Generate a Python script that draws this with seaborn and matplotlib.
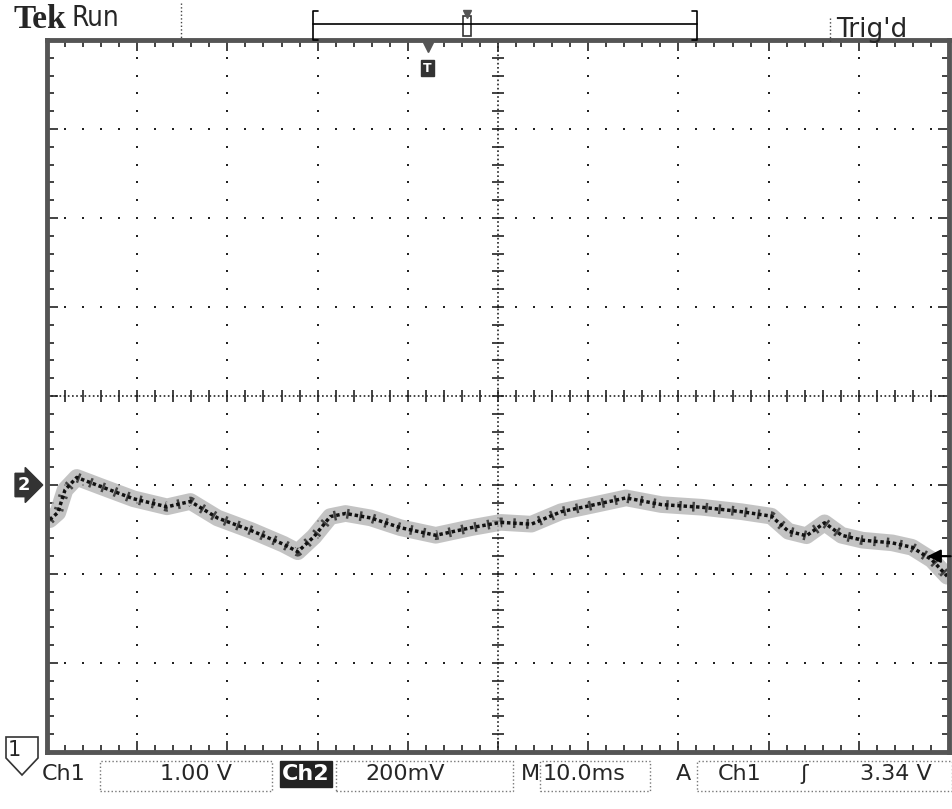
import numpy as np
import pandas as pd
import matplotlib
matplotlib.use("Agg")
import matplotlib.pyplot as plt
from matplotlib.patches import Rectangle, Polygon
import seaborn as sns

# ---- data (Ch2, 200 mV/div, 10 ms/div) ----
time_ms = [0.3, 1.2, 2.0, 3.3, 5.9, 9.6, 13.3, 15.9, 18.9, 22.6, 26.2, 27.8, 29.6,
           31.4, 33.1, 35.9, 39.2, 43.1, 47.0, 50.3, 53.7, 57.0, 60.3, 64.2, 68.1,
           72.6, 77.0, 80.3, 82.2, 84.2, 86.2, 88.1, 90.4, 93.7, 95.9, 98.1, 99.8]
ch2_mv = [-78, -62, -11, 17, -3, -31, -49, -37, -74, -102, -133, -150, -116,
          -71, -64, -74, -96, -113, -96, -84, -88, -60, -46, -29, -44,
          -50, -60, -70, -104, -114, -85, -113, -124, -130, -140, -168, -205]

header_left = ["Tek", "Run"]
header_right = "Trig'd"
footer_labels = ["Ch1", "1.00 V", "Ch2", "200mV", "M", "10.0ms", "A", "Ch1", "\u0283", "3.34 V"]
trigger_level_mv = -160
trigger_pos_ms = 42.2

W, H = 952, 809
sns.set_theme(style="white")
plt.rcParams["font.family"] = ["DejaVu Sans"]
fig = plt.figure(figsize=(W / 100, H / 100), dpi=100)
fig.patch.set_facecolor("white")

def fx(x):
    return x / W

def fy(y):
    return 1 - y / H

L, R, T, B = 47, 949, 40, 752
ax = fig.add_axes([fx(L), fy(B), (R - L) / W, (B - T) / H])
ax.set_xlim(0, 100)
ax.set_ylim(-600, 1000)

# graticule dots
minor_y = np.arange(-600, 1001, 40)
minor_x = np.arange(0, 101, 2)
for gx in range(10, 100, 10):
    if gx == 50:
        continue
    ax.plot([gx] * len(minor_y), minor_y, ls="none", marker="s", ms=1.7, color="#222", mew=0)
for gy in range(-400, 1000, 200):
    if gy == 200:
        continue
    ax.plot(minor_x, [gy] * len(minor_x), ls="none", marker="s", ms=1.7, color="#222", mew=0)
# centre crosshair
ax.plot([50, 50], [-600, 1000], ls=(0, (1, 1.5)), lw=1.2, color="#222")
ax.plot([0, 100], [200, 200], ls=(0, (1, 1.5)), lw=1.2, color="#222")
ax.plot([50] * len(minor_y), minor_y, ls="none", marker="_", ms=8, mew=1.2, color="#222")
ax.plot(minor_x, [200] * len(minor_x), ls="none", marker="|", ms=8, mew=1.2, color="#222")

# trace (noisy band look)
df = pd.DataFrame({"t": time_ms, "v": ch2_mv})
sns.lineplot(data=df, x="t", y="v", ax=ax, color="#b5b5b5", lw=12, alpha=0.8, legend=False)
sns.lineplot(data=df, x="t", y="v", ax=ax, color="#444", lw=7, legend=False,
             linestyle=(0, (0.25, 1.1)))
sns.lineplot(data=df, x="t", y="v", ax=ax, color="#111", lw=2.5, legend=False,
             linestyle=(0, (1, 0.8)))

ax.set_xlabel("")
ax.set_ylabel("")
ax.set_xticks(np.arange(0, 101, 10))
ax.set_yticks(np.arange(-600, 1001, 200))
ax.set_xticks(minor_x, minor=True)
ax.set_yticks(minor_y, minor=True)
ax.tick_params(which="both", direction="in", top=True, bottom=True, left=True, right=True,
               labelbottom=False, labelleft=False, color="#222")
ax.tick_params(which="major", length=8, width=1.2)
ax.tick_params(which="minor", length=5, width=1.2)
for s in ax.spines.values():
    s.set_linewidth(3.5)
    s.set_color("#555")

# Ch2 ground marker
ax.annotate("2", xy=(0, 0), xycoords=("axes fraction", "data"), xytext=(-23, 0),
            textcoords="offset pixels", ha="center", va="center", color="white",
            fontsize=13, fontweight="bold", annotation_clip=False,
            bbox=dict(boxstyle="rarrow,pad=0.15", fc="#333", ec="#333"))
# trigger level arrow (right)
ax.annotate("", xy=(97.3, trigger_level_mv), xytext=(100.5, trigger_level_mv),
            arrowprops=dict(arrowstyle="-|>", color="black", lw=1.5, mutation_scale=20),
            annotation_clip=False)
# trigger position marker (top)
ax.annotate("T", xy=(trigger_pos_ms, 1000), xycoords="data", xytext=(0, -28),
            textcoords="offset pixels", ha="center", va="center", fontsize=9,
            color="white", fontweight="bold", annotation_clip=False,
            bbox=dict(boxstyle="square,pad=0.15", fc="#333", ec="#333"))
ax.plot([trigger_pos_ms], [985], marker="v", ms=7, color="#555", clip_on=False)

# header
fig.text(fx(14), fy(19), header_left[0], fontsize=24, fontweight="bold",
         family=["Liberation Serif", "DejaVu Serif"], va="center", ha="left")
fig.text(fx(72), fy(18), header_left[1], fontsize=20, va="center", ha="left",
         stretch="condensed")
fig.text(fx(836), fy(30), header_right, fontsize=19, va="center", ha="left")
fig.lines.append(plt.Line2D([fx(181), fx(181)], [fy(3), fy(38)], transform=fig.transFigure,
                            ls=":", lw=1, color="#444"))
fig.lines.append(plt.Line2D([fx(830), fx(830)], [fy(18), fy(42)], transform=fig.transFigure,
                            ls=":", lw=1, color="#444"))
# record bar
fig.lines.append(plt.Line2D([fx(313), fx(697)], [fy(24), fy(24)], transform=fig.transFigure,
                            lw=1.2, color="black"))
for xb, sgn in [(313, 1), (697, -1)]:
    fig.lines.append(plt.Line2D([fx(xb + 5 * sgn), fx(xb), fx(xb), fx(xb + 5 * sgn)],
                                [fy(11), fy(11), fy(40), fy(40)], transform=fig.transFigure,
                                lw=1.2, color="black"))
fig.patches.append(Rectangle((fx(463), fy(36)), 8 / W, 20 / H, transform=fig.transFigure,
                             fc="white", ec="#333", lw=1.2))
fig.lines.append(plt.Line2D([fx(467)], [fy(14)], transform=fig.transFigure, marker="v",
                            ms=6, color="#555"))

# Ch1 ground marker (bottom left)
fig.patches.append(Polygon([(fx(6), fy(737)), (fx(38), fy(737)), (fx(38), fy(758)),
                            (fx(22), fy(775)), (fx(6), fy(758))], closed=True,
                           transform=fig.transFigure, fc="white", ec="#333", lw=1.2))
fig.text(fx(14), fy(750), "1", fontsize=15, va="center", ha="center")

# footer
fy_t = fy(774)
fs = 16
fig.text(fx(42), fy_t, footer_labels[0], fontsize=fs, va="center", ha="left")
for (x0, x1) in [(100, 272), (336, 513), (540, 650), (697, 952)]:
    fig.patches.append(Rectangle((fx(x0), fy(791)), (x1 - x0) / W, 30 / H,
                                 transform=fig.transFigure, fc="none", ec="#777",
                                 lw=1, ls=":"))
fig.text(fx(160), fy_t, footer_labels[1], fontsize=fs, va="center", ha="left")
fig.text(fx(306), fy_t, footer_labels[2], fontsize=fs, va="center", ha="center",
         color="white", fontweight="bold",
         bbox=dict(boxstyle="square,pad=0.12", fc="#222", ec="#222"))
fig.text(fx(365), fy_t, footer_labels[3], fontsize=fs, va="center", ha="left")
fig.text(fx(521), fy_t, footer_labels[4], fontsize=fs, va="center", ha="left")
fig.text(fx(543), fy_t, footer_labels[5], fontsize=fs, va="center", ha="left")
fig.text(fx(676), fy_t, footer_labels[6], fontsize=fs, va="center", ha="left")
fig.text(fx(718), fy_t, footer_labels[7], fontsize=fs, va="center", ha="left")
fig.text(fx(800), fy_t, footer_labels[8], fontsize=fs, va="center", ha="left")
fig.text(fx(860), fy_t, footer_labels[9], fontsize=fs, va="center", ha="left")

fig.savefig("out.png", dpi=100, facecolor="white")
